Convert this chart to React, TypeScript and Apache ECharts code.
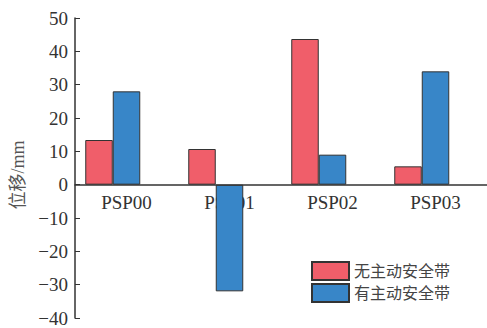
import React, { useEffect, useRef } from "react";
import * as echarts from "echarts";

const categories = ["PSP00", "PSP01", "PSP02", "PSP03"];
const seriesNames = ["无主动安全带", "有主动安全带"];
const noBelt = [13.4, 10.7, 43.7, 5.5];
const withBelt = [28, -32, 9, 34];
const yTicks = { min: -40, max: 50, interval: 10 };

const SERIF = "'Liberation Serif', 'Times New Roman', 'Noto Sans CJK SC', serif";

export default function App() {
  const ref = useRef<HTMLDivElement>(null);
  useEffect(() => {
    if (!ref.current) return;
    const chart = echarts.init(ref.current, null, { renderer: "svg" });
    chart.setOption({
      animation: false,
      backgroundColor: "#ffffff",
      grid: { left: 75, right: 0, top: 18, bottom: 10, containLabel: false, outerBoundsMode: "none" },
      legend: {
        data: seriesNames,
        orient: "vertical",
        left: 311,
        top: 261,
        padding: 0,
        itemWidth: 37,
        itemHeight: 18,
        itemGap: 2,
        icon: "rect",
        z: 20,
        textStyle: { fontFamily: SERIF, fontSize: 16, color: "#444" },
      },
      xAxis: {
        type: "category",
        data: categories,
        z: 12,
        axisLine: { onZero: true, lineStyle: { color: "#333", width: 1.5 } },
        axisTick: { show: false },
        axisLabel: { show: false },
        splitLine: { show: false },
      },
      yAxis: {
        type: "value",
        min: yTicks.min,
        max: yTicks.max,
        interval: yTicks.interval,
        z: 12,
        name: "位移/mm",
        nameLocation: "middle",
        nameGap: 43,
        nameTextStyle: { fontFamily: SERIF, fontSize: 18, color: "#555", padding: [0, 14, 0, 0] },
        axisLine: { show: true, lineStyle: { color: "#333", width: 1.5 } },
        axisTick: { show: true, inside: true, length: 5, lineStyle: { color: "#333" } },
        axisLabel: {
          fontFamily: SERIF,
          fontSize: 19,
          color: "#333",
          margin: 7,
          formatter: (v: number) => String(v).replace("-", "\u2212"),
        },
        splitLine: { show: false },
      },
      series: [
        {
          name: "_catLabels",
          type: "custom",
          z: 1,
          silent: true,
          data: categories.map((c, i) => [i, 0]),
          renderItem: (params: any, api: any) => {
            const pt = api.coord([api.value(0), api.value(1)]);
            return {
              type: "text",
              z2: 0,
              x: pt[0],
              y: pt[1] + 8,
              style: {
                text: categories[params.dataIndex],
                fontFamily: SERIF,
                fontSize: 19,
                fill: "#333",
                align: "center",
                verticalAlign: "top",
              },
            };
          },
        },
        {
          name: seriesNames[0],
          type: "bar",
          z: 10,
          data: noBelt,
          barWidth: 27.5,
          barGap: "0%",
          itemStyle: { color: "#F05E6A", borderColor: "#333", borderWidth: 1 },
        },
        {
          name: seriesNames[1],
          type: "bar",
          z: 10,
          data: withBelt,
          barWidth: 27.5,
          barGap: "0%",
          itemStyle: { color: "#3886C8", borderColor: "#333", borderWidth: 1 },
        },
        {
          name: "_spacer",
          type: "bar",
          z: 10,
          data: categories.map(() => "-"),
          barWidth: 27.5,
          barGap: "0%",
          itemStyle: { color: "transparent" },
        },
      ],
    });
    return () => chart.dispose();
  }, []);
  return <div ref={ref} style={{ width: 487, height: 328, position: "absolute", left: 0, top: 0 }} />;
}
